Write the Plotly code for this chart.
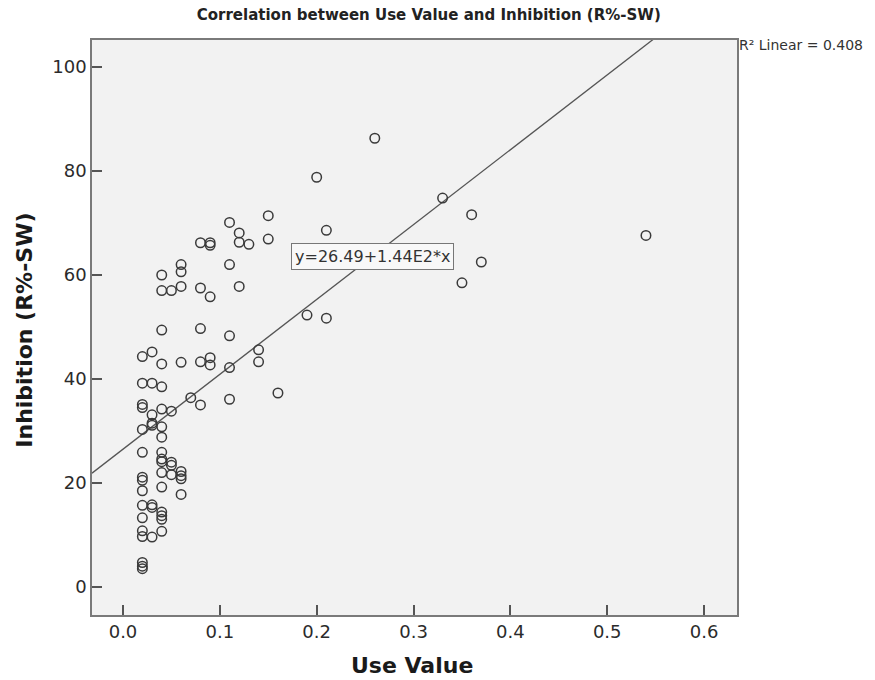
import plotly.graph_objects as go

# ---- data ----
use_value = [
    0.02, 0.02, 0.02, 0.02, 0.02, 0.02, 0.02, 0.02, 0.02, 0.02, 0.02, 0.02, 0.02, 0.02, 0.02, 0.02,
    0.03, 0.03, 0.03, 0.03, 0.03, 0.03, 0.03, 0.03,
    0.04, 0.04, 0.04, 0.04, 0.04, 0.04, 0.04, 0.04, 0.04, 0.04, 0.04, 0.04, 0.04, 0.04, 0.04, 0.04, 0.04,
    0.05, 0.05, 0.05, 0.05, 0.05,
    0.06, 0.06, 0.06, 0.06, 0.06, 0.06, 0.06, 0.06,
    0.07,
    0.08, 0.08, 0.08, 0.08, 0.08,
    0.09, 0.09, 0.09, 0.09, 0.09,
    0.11, 0.11, 0.11, 0.11, 0.11,
    0.12, 0.12, 0.12,
    0.13,
    0.14, 0.14,
    0.15, 0.15,
    0.16,
    0.19,
    0.20,
    0.21, 0.21,
    0.26,
    0.33,
    0.35,
    0.36,
    0.37,
    0.54,
]
inhibition = [
    44.3, 39.2, 35.1, 34.5, 30.3, 25.9, 21.1, 20.5, 18.5, 15.7, 13.3, 10.8, 9.7, 4.7, 4.0, 3.5,
    45.2, 39.2, 33.1, 31.5, 31.1, 15.8, 15.3, 9.6,
    60.0, 57.0, 49.4, 42.9, 38.5, 34.2, 30.8, 28.8, 25.9, 24.6, 24.1, 22.0, 19.2, 14.4, 13.7, 13.0, 10.7,
    57.0, 33.8, 24.0, 23.4, 21.6,
    62.0, 60.6, 57.8, 43.2, 22.2, 21.4, 20.8, 17.8,
    36.4,
    66.2, 57.5, 49.7, 43.3, 35.0,
    66.2, 65.7, 55.8, 44.1, 42.7,
    70.1, 62.0, 48.3, 42.2, 36.1,
    68.1, 66.3, 57.8,
    65.9,
    45.6, 43.3,
    71.4, 66.9,
    37.3,
    52.3,
    78.8,
    68.6, 51.7,
    86.3,
    74.8,
    58.5,
    71.6,
    62.5,
    67.6,
]

fit_intercept = 26.49
fit_slope = 144.0
r_squared = 0.408

x_tick_vals = [0.0, 0.1, 0.2, 0.3, 0.4, 0.5, 0.6]
x_tick_text = ["0.0", "0.1", "0.2", "0.3", "0.4", "0.5", "0.6"]
y_tick_vals = [0, 20, 40, 60, 80, 100]
y_tick_text = ["0", "20", "40", "60", "80", "100"]

x_range = [-0.032, 0.634]
y_range = [-5.4, 105.2]

FONT = "DejaVu Sans"

fig = go.Figure()

# regression line across the visible x range
fit_x = [x_range[0], x_range[1]]
fit_y = [fit_intercept + fit_slope * v for v in fit_x]
fig.add_trace(go.Scatter(
    x=fit_x, y=fit_y, mode="lines",
    line=dict(color="#555555", width=1.3),
    hoverinfo="skip", showlegend=False,
))

fig.add_trace(go.Scatter(
    x=use_value, y=inhibition, mode="markers",
    marker=dict(symbol="circle-open", size=9.5, color="#3a3a3a",
                line=dict(width=1.5, color="#3a3a3a")),
    showlegend=False,
))

axis_common = dict(
    showgrid=False, zeroline=False,
    showline=True, mirror=True, linecolor="#7a7a7a", linewidth=1.5,
    ticks="inside", ticklen=10, tickwidth=1.5, tickcolor="#555555",
    tickfont=dict(family=FONT, size=18, color="#2b2b2b"),
)

fig.update_xaxes(range=x_range, tickvals=x_tick_vals, ticktext=x_tick_text, **axis_common)
fig.update_yaxes(range=y_range, tickvals=y_tick_vals, ticktext=y_tick_text, **axis_common)

fig.update_layout(
    width=875, height=680,
    margin=dict(l=92, r=138, t=40, b=65),
    paper_bgcolor="white",
    plot_bgcolor="#f2f2f2",
    title=dict(
        text="<b>Correlation between Use Value and Inhibition (R%-SW)</b>",
        font=dict(family=FONT, size=15, color="#222222"),
        xref="container", x=0.49, xanchor="center",
        yref="container", y=1 - 15 / 680, yanchor="middle",
    ),
    annotations=[
        dict(text="<b>Use Value</b>", xref="paper", yref="paper",
             x=0.496, y=-0.087, xanchor="center", yanchor="middle",
             showarrow=False, font=dict(family=FONT, size=22, color="#1a1a1a")),
        dict(text="<b>Inhibition (R%-SW)</b>", xref="paper", yref="paper",
             x=-0.104, y=0.496, xanchor="center", yanchor="middle", textangle=-90,
             showarrow=False, font=dict(family=FONT, size=22, color="#1a1a1a")),
        dict(text="y=26.49+1.44E2*x", xref="x", yref="y",
             x=0.258, y=63.5, xanchor="center", yanchor="middle",
             showarrow=False, bgcolor="#f8f8f8", bordercolor="#777777",
             borderwidth=1, borderpad=3,
             font=dict(family=FONT, size=16, color="#333333")),
        dict(text=f"R² Linear = {r_squared}", xref="paper", yref="paper",
             x=1.0, y=0.991, xanchor="left", yanchor="middle",
             showarrow=False, font=dict(family=FONT, size=14, color="#333333")),
    ],
)

fig.write_html("out.html")
